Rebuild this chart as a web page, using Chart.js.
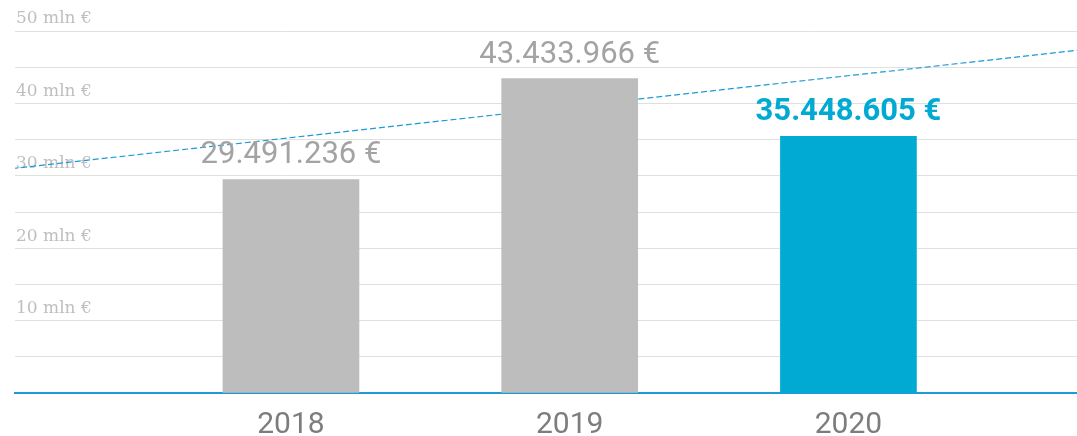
<!DOCTYPE html>
<html>
<head>
<meta charset="utf-8">
<script src="https://cdn.jsdelivr.net/npm/chart.js@4/dist/chart.umd.min.js"></script>
<style>
  html, body { margin: 0; padding: 0; background: #fff; }
  #wrap { width: 1077px; height: 436px; }
</style>
</head>
<body>
<div id="wrap"><canvas id="revChart" width="1077" height="436"></canvas></div>
<script>
// data
const years = [2018, 2019, 2020];
const revenue = [29491236, 43433966, 35448605];
// dashed trend line, read at the left and right edges of the plot
const trendYears = [2017, 2021];
const trendValues = [31000000, 48100000];
const yTicks = [0, 10000000, 20000000, 30000000, 40000000, 50000000];

const barColors = ['#bdbdbd', '#bdbdbd', '#00aad2'];
const labelColors = ['#a3a3a3', '#a3a3a3', '#00aad2'];
const labelWeights = ['400', '400', '700'];

function formatEuro(v) {
    return String(v).replace(/\B(?=(\d{3})+(?!\d))/g, '.') + ' €';
}

const valueLabels = {
    id: 'valueLabels',
    afterDatasetsDraw(chart) {
        const ctx = chart.ctx;
        const meta = chart.getDatasetMeta(0);
        ctx.save();
        ctx.textAlign = 'center';
        ctx.textBaseline = 'alphabetic';
        meta.data.forEach((bar, i) => {
            ctx.font = labelWeights[i] + ' 31px Roboto';
            ctx.fillStyle = labelColors[i];
            ctx.fillText(formatEuro(revenue[i]), bar.x, bar.y - 16);
        });
        ctx.restore();
    }
};

const ctx = document.getElementById('revChart').getContext('2d');
new Chart(ctx, {
    type: 'bar',
    data: {
        datasets: [{
            type: 'bar',
            data: years.map((y, i) => ({ x: y, y: revenue[i] })),
            backgroundColor: barColors,
            barThickness: 136,
            order: 1
        }, {
            type: 'line',
            data: trendYears.map((y, i) => ({ x: y, y: trendValues[i] })),
            borderColor: '#1e9ad6',
            borderWidth: 1.2,
            borderDash: [6, 3],
            pointRadius: 0,
            fill: false,
            order: 2
        }]
    },
    plugins: [valueLabels],
    options: {
        responsive: false,
        animation: false,
        layout: { padding: { left: 13, right: 0, top: 31, bottom: 0 } },
        plugins: {
            legend: { display: false },
            tooltip: { enabled: false }
        },
        scales: {
            x: {
                type: 'linear',
                min: 2017.01,
                max: 2020.82,
                offset: false,
                afterBuildTicks: scale => { scale.ticks = years.map(v => ({ value: v })); },
                afterFit: scale => { scale.height = 43; },
                grid: { display: false, drawTicks: false },
                border: { display: true, color: '#1e9ad6', width: 2 },
                ticks: {
                    padding: 14,
                    color: '#7d7d7d',
                    font: { family: 'Roboto', size: 30 },
                    callback: v => String(v)
                }
            },
            y: {
                min: 0,
                max: 50000000,
                afterBuildTicks: scale => {
                    const t = [];
                    for (let v = 0; v <= 50000000; v += 5000000) t.push({ value: v });
                    scale.ticks = t;
                },
                grid: {
                    drawTicks: false,
                    color: c => c.tick && c.tick.value === 0 ? 'rgba(0,0,0,0)' : '#e0e0e0'
                },
                border: { display: false },
                ticks: {
                    mirror: true,
                    padding: 1,
                    labelOffset: -12,
                    color: '#bfbfbf',
                    font: { family: 'DejaVu Serif', size: 17 },
                    callback: v => (yTicks.includes(v) && v !== 0) ? (v / 1000000) + ' mln €' : ''
                }
            }
        }
    }
});
</script>
</body>
</html>
